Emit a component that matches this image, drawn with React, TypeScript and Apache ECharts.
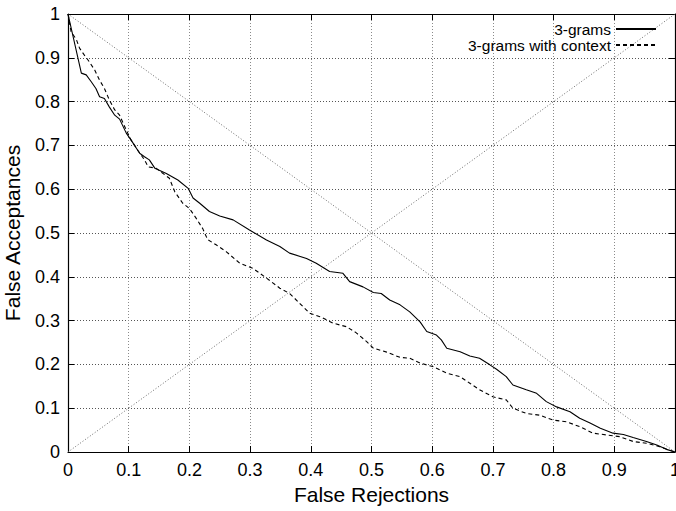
import React, { useEffect, useRef } from "react";
import * as echarts from "echarts";

const seriesNames = ["3-grams", "3-grams with context"];

const threeGrams: [number, number][] = [
  [0, 1], [0.022, 0.865], [0.03, 0.861], [0.038, 0.846], [0.046, 0.83], [0.052, 0.811],
  [0.06, 0.807], [0.068, 0.788], [0.077, 0.769], [0.085, 0.76], [0.096, 0.728], [0.104, 0.712],
  [0.118, 0.682], [0.126, 0.674], [0.134, 0.667], [0.143, 0.648], [0.162, 0.636], [0.181, 0.621],
  [0.198, 0.602], [0.206, 0.58], [0.217, 0.568], [0.233, 0.549], [0.25, 0.539], [0.272, 0.53],
  [0.299, 0.507], [0.327, 0.484], [0.349, 0.469], [0.365, 0.454], [0.393, 0.442], [0.409, 0.431],
  [0.431, 0.412], [0.453, 0.408], [0.464, 0.389], [0.486, 0.377], [0.503, 0.364], [0.516, 0.362],
  [0.53, 0.347], [0.547, 0.336], [0.563, 0.32], [0.58, 0.297], [0.591, 0.275], [0.607, 0.267],
  [0.615, 0.256], [0.624, 0.237], [0.646, 0.229], [0.662, 0.219], [0.678, 0.214], [0.695, 0.199],
  [0.706, 0.189], [0.722, 0.172], [0.733, 0.153], [0.755, 0.142], [0.772, 0.134], [0.788, 0.115],
  [0.805, 0.103], [0.827, 0.092], [0.843, 0.077], [0.86, 0.066], [0.877, 0.054], [0.898, 0.043],
  [0.915, 0.04], [0.931, 0.033], [0.953, 0.024], [0.97, 0.016], [0.986, 0.006], [1, 0],
];

const threeGramsContext: [number, number][] = [
  [0, 1], [0.005, 0.96], [0.014, 0.941], [0.019, 0.922], [0.027, 0.906], [0.035, 0.891],
  [0.044, 0.872], [0.052, 0.849], [0.06, 0.83], [0.068, 0.804], [0.077, 0.781], [0.085, 0.769],
  [0.096, 0.735], [0.104, 0.712], [0.115, 0.689], [0.126, 0.667], [0.132, 0.651], [0.145, 0.648],
  [0.167, 0.625], [0.176, 0.594], [0.189, 0.568], [0.2, 0.556], [0.211, 0.534], [0.222, 0.51],
  [0.23, 0.485], [0.244, 0.473], [0.261, 0.457], [0.283, 0.431], [0.305, 0.419], [0.327, 0.397],
  [0.349, 0.374], [0.365, 0.362], [0.382, 0.339], [0.398, 0.317], [0.415, 0.309], [0.437, 0.294],
  [0.459, 0.286], [0.475, 0.272], [0.492, 0.252], [0.503, 0.237], [0.525, 0.228], [0.547, 0.216],
  [0.563, 0.214], [0.58, 0.203], [0.601, 0.195], [0.624, 0.18], [0.646, 0.172], [0.662, 0.157],
  [0.678, 0.142], [0.7, 0.126], [0.722, 0.119], [0.733, 0.1], [0.755, 0.088], [0.777, 0.084],
  [0.799, 0.073], [0.821, 0.069], [0.843, 0.058], [0.865, 0.043], [0.887, 0.039], [0.909, 0.035],
  [0.931, 0.024], [0.953, 0.02], [0.975, 0.012], [1, 0],
];

const chanceLine: [number, number][] = [[0, 1], [1, 0]];
const equalErrorLine: [number, number][] = [[0, 0], [1, 1]];

const FONT = "'Liberation Sans', Arial, Helvetica, sans-serif";

export default function App() {
  const ref = useRef<HTMLDivElement>(null);
  useEffect(() => {
    if (!ref.current) return;
    const chart = echarts.init(ref.current, undefined, { renderer: "svg" });
    const fmt = (v: number) => String(Math.round(v * 10) / 10);
    const gridLineX = { show: true, lineStyle: { color: "#8a8a8a", width: 1, type: [1, 2] as any } };
    const gridLineY = { show: true, lineStyle: { color: "#555", width: 1, type: [1, 2] as any } };
    const axisLine = { show: true, onZero: false, lineStyle: { color: "#000", width: 1.2 } };
    const tick = { show: true, inside: true, length: 6, lineStyle: { color: "#000" } };
    chart.setOption({
      animation: false,
      backgroundColor: "#fff",
      textStyle: { fontFamily: FONT },
      grid: { left: 68, right: 1, top: 14, bottom: 59, containLabel: false, outerBoundsMode: "none" },
      legend: {
        data: seriesNames,
        orient: "vertical",
        align: "right",
        right: 14,
        top: 16,
        padding: [5, 5, 5, 5],
        itemWidth: 40,
        itemHeight: 12,
        itemGap: 0,
        itemStyle: { opacity: 0, borderWidth: 0 },
        textStyle: { fontSize: 15.5, color: "#000", fontFamily: FONT, lineHeight: 15 },
        selectedMode: false,
      },
      xAxis: [
        {
          type: "value", min: 0, max: 1, interval: 0.1, position: "bottom",
          name: "False Rejections", nameLocation: "middle", nameGap: 32,
          nameTextStyle: { fontSize: 21, color: "#000", fontFamily: FONT },
          axisLine, axisTick: tick, splitLine: gridLineX,
          axisLabel: { fontSize: 18, color: "#000", margin: 9, formatter: fmt, fontFamily: FONT },
        },
        {
          type: "value", min: 0, max: 1, interval: 0.1, position: "top",
          axisLine, axisTick: tick, splitLine: { show: false }, axisLabel: { show: false },
        },
      ],
      yAxis: [
        {
          type: "value", min: 0, max: 1, interval: 0.1, position: "left",
          name: "False Acceptances", nameLocation: "middle", nameGap: 45,
          nameTextStyle: { fontSize: 21, color: "#000", fontFamily: FONT },
          axisLine, axisTick: tick, splitLine: gridLineY,
          axisLabel: { fontSize: 18, color: "#000", margin: 8, formatter: fmt, fontFamily: FONT },
        },
        {
          type: "value", min: 0, max: 1, interval: 0.1, position: "right",
          axisLine, axisTick: tick, splitLine: { show: false }, axisLabel: { show: false },
        },
      ],
      series: [
        {
          name: "chance", type: "line", data: chanceLine, symbol: "none", silent: true,
          lineStyle: { color: "#6a6a6a", width: 1, type: [1, 2] },
        },
        {
          name: "eer", type: "line", data: equalErrorLine, symbol: "none", silent: true,
          lineStyle: { color: "#6a6a6a", width: 1, type: [1, 2] },
        },
        {
          name: seriesNames[0], type: "line", data: threeGrams, symbol: "none",
          lineStyle: { color: "#000", width: 1.1, type: "solid" }, itemStyle: { color: "#000" },
        },
        {
          name: seriesNames[1], type: "line", data: threeGramsContext, symbol: "none",
          lineStyle: { color: "#000", width: 1.1, type: [4, 3] }, itemStyle: { color: "#000" },
        },
      ],
    });
    return () => chart.dispose();
  }, []);
  return (
    <div
      ref={ref}
      style={{ position: "fixed", left: 0, top: 0, width: 676, height: 511, background: "#fff" }}
    />
  );
}
